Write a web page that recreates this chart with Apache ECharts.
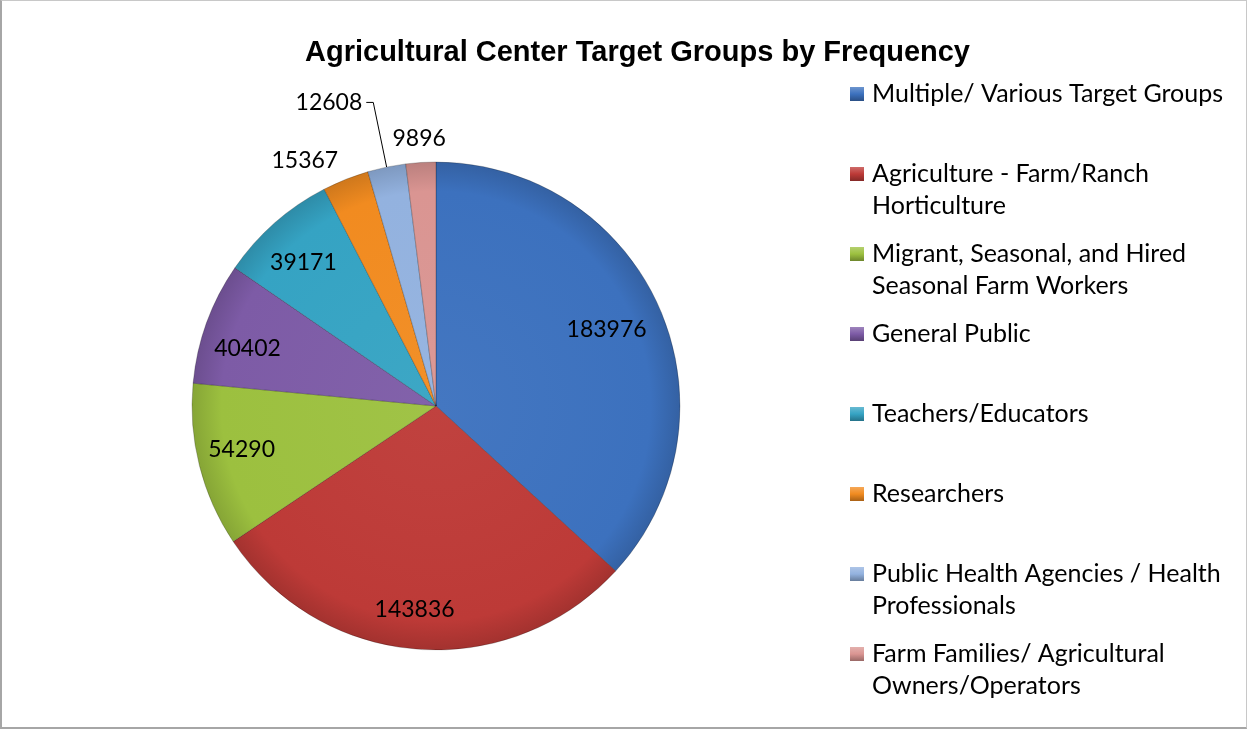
<!DOCTYPE html>
<html>
<head>
<meta charset="utf-8">
<script src="https://cdn.jsdelivr.net/npm/echarts@6/dist/echarts.min.js"></script>
<style>
  html, body { margin: 0; padding: 0; background: #fff; }
  #wrap { position: relative; width: 1247px; height: 729px; }
  #chart { width: 1247px; height: 729px; }
  #frame {
    position: absolute; left: 0; top: 0; width: 1247px; height: 729px;
    box-sizing: border-box; pointer-events: none;
    border-left: 2px solid #A6A6A6; border-bottom: 2px solid #A6A6A6;
    border-top: 1px solid #C8C8C8; border-right: 1px solid #C8C8C8;
  }
</style>
</head>
<body>
<div id="wrap"><div id="chart"></div><div id="frame"></div></div>
<script>
// Chart text and values
const chartTitle = 'Agricultural Center Target Groups by Frequency';
const categories = [
  'Multiple/ Various Target Groups',
  'Agriculture - Farm/Ranch\nHorticulture',
  'Migrant, Seasonal, and Hired\nSeasonal Farm Workers',
  'General Public',
  'Teachers/Educators',
  'Researchers',
  'Public Health Agencies / Health\nProfessionals',
  'Farm Families/ Agricultural\nOwners/Operators'
];
const values = [183976, 143836, 54290, 40402, 39171, 15367, 12608, 9896];

// Slice palette
const palette = ['#3C71BE', '#BD3A37', '#9CC03F', '#7D5BA6', '#35A3C3', '#F18B20', '#93B2DF', '#DA9592'];

// Fine nudges for the in-slice value labels (pixels)
const innerLabelNudge = [[-13, 4], [-6, 4], [0, -6], [0, 11], [0, 7]];

const CX = 436, CY = 406, R = 244;
const FONT = 'Lato, "Open Sans", sans-serif';

function shade(hex, f) {
  const n = parseInt(hex.slice(1), 16);
  const ch = [(n >> 16) & 255, (n >> 8) & 255, n & 255].map(c =>
    Math.max(0, Math.min(255, Math.round(f < 0 ? c * (1 + f) : c + (255 - c) * f))));
  return 'rgb(' + ch.join(',') + ')';
}

function sliceFill(c) {
  return {
    type: 'radial', x: CX, y: CY, r: R, global: true,
    colorStops: [
      { offset: 0, color: shade(c, 0.04) },
      { offset: 0.88, color: c },
      { offset: 1, color: shade(c, -0.14) }
    ]
  };
}

// Bevelled legend square (the icon box is 17x46, the square fills its top-left 14x14)
function markerFill(c) {
  return {
    type: 'linear', x: 0, y: 0, x2: 0, y2: 14 / 46,
    colorStops: [
      { offset: 0, color: shade(c, 0.25) },
      { offset: 0.5, color: c },
      { offset: 1, color: shade(c, -0.3) }
    ]
  };
}

// Value labels show the number only
const labelText = { color: '#000', fontFamily: FONT, fontSize: 23, formatter: '{c}' };

// Main pie: slice fills, plus the outside labels of two small slices
const mainData = categories.map((name, i) => {
  const item = { name, value: values[i], itemStyle: { color: sliceFill(palette[i]) } };
  if (i === 5) {
    item.label = Object.assign({ show: true, position: 'outside', distanceToLabelLine: 0 }, labelText);
    item.labelLine = { show: false, length: 20, length2: 0 };
  } else if (i === 6) {
    item.label = Object.assign({ show: true, position: 'outside', distanceToLabelLine: 4 }, labelText);
    item.labelLine = { show: true, length: 66, length2: 7, smooth: false, lineStyle: { color: '#000', width: 1 } };
  }
  return item;
});

// Transparent ring whose mid radius carries the in-slice labels
const innerLabelData = categories.map((name, i) => ({
  name, value: values[i],
  label: i <= 4 ? Object.assign({ show: true, position: 'inside', offset: innerLabelNudge[i] }, labelText) : { show: false }
}));

// Transparent outer ring carrying the label just outside the last slice
const ringLabelData = categories.map((name, i) => ({
  name, value: values[i],
  label: i === 7 ? Object.assign({ show: true, position: 'inside', offset: [0, 3] }, labelText) : { show: false }
}));

const overlayBase = {
  type: 'pie', center: [CX, CY], startAngle: 90, clockwise: true,
  silent: true, avoidLabelOverlap: false,
  itemStyle: { color: 'rgba(0,0,0,0)', borderWidth: 0 },
  labelLine: { show: false },
  emphasis: { disabled: true }
};

const option = {
  animation: false,
  backgroundColor: '#fff',
  title: {
    text: chartTitle,
    left: 300, top: 33,
    textStyle: { fontFamily: '"Liberation Sans", Arial, sans-serif', fontWeight: 'bold', fontSize: 29, color: '#000' }
  },
  legend: {
    orient: 'vertical',
    left: 850, top: 78,
    padding: 0,
    itemWidth: 17, itemHeight: 46, itemGap: 16,
    icon: 'path://M0,0H14V14H0Z M17,46',
    selectedMode: false,
    data: categories.map((name, i) => ({ name, itemStyle: { color: markerFill(palette[i]), borderWidth: 0 } })),
    formatter: name => name.indexOf('\n') < 0 ? name + '\n ' : name,
    textStyle: { fontFamily: FONT, fontSize: 25, lineHeight: 32, color: '#000' }
  },
  series: [
    {
      name: 'Target Groups',
      type: 'pie', center: [CX, CY], radius: R,
      startAngle: 90, clockwise: true,
      avoidLabelOverlap: false,
      label: { show: false },
      labelLine: { show: false },
      itemStyle: { borderColor: 'rgba(0,0,0,0.22)', borderWidth: 1 },
      emphasis: { disabled: true },
      data: mainData
    },
    Object.assign({ name: 'inner labels', radius: [151, R], data: innerLabelData }, overlayBase),
    Object.assign({ name: 'ring labels', radius: [R, 292], data: ringLabelData }, overlayBase)
  ]
};

const chart = echarts.init(document.getElementById('chart'), null, { renderer: 'canvas' });
chart.setOption(option);
</script>
</body>
</html>
